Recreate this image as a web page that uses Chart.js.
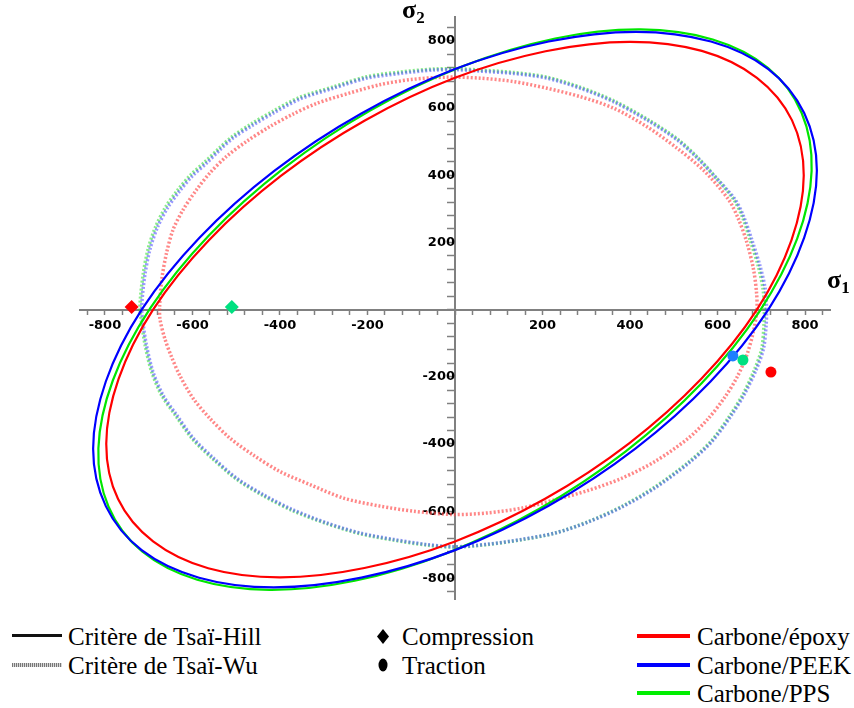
<!DOCTYPE html>
<html>
<head>
<meta charset="utf-8">
<script src="https://cdn.jsdelivr.net/npm/chart.js@4"></script>
<style>
  body { margin: 0; background: #fff; width: 854px; height: 708px; position: relative; overflow: hidden;
         font-family: "Liberation Serif", "Times New Roman", serif; color: #000; }
  #wrap { position: absolute; left: 0; top: 0; width: 854px; height: 610px; }
  .sig { position: absolute; font-weight: bold; font-size: 26px; line-height: 25px; white-space: nowrap; }
  .sig sub { font-size: 17px; vertical-align: -5px; line-height: 0; }
  .leg { position: absolute; font-size: 25px; line-height: 29px; white-space: nowrap; }
  .sw { position: absolute; }
</style>
</head>
<body>
<div id="wrap"><canvas id="stressChart" width="854" height="610"></canvas></div>
<div class="sig" style="left:402px; top:-3px;">σ<sub>2</sub></div>
<div class="sig" style="left:827px; top:267px;">σ<sub>1</sub></div>

<div class="sw" style="left:12px; top:634px; width:50px; height:3px; background:#111;"></div>
<div class="sw" style="left:12px; top:663px; width:50px; height:4px; background:repeating-linear-gradient(90deg,#777 0 1px,#d8d8d8 1px 2px);"></div>
<div class="leg" style="left:68px; top:622px;">Critère de Tsaï-Hill</div>
<div class="leg" style="left:68px; top:651px;">Critère de Tsaï-Wu</div>

<svg class="sw" style="left:377px; top:629px;" width="12" height="15"><polygon points="6,0 12,7.5 6,15 0,7.5" fill="#000"/></svg>
<svg class="sw" style="left:378px; top:658px;" width="10" height="14"><ellipse cx="5" cy="7" rx="4.5" ry="6.5" fill="#000"/></svg>
<div class="leg" style="left:402px; top:622px;">Compression</div>
<div class="leg" style="left:402px; top:651px;">Traction</div>

<div class="sw" style="left:637px; top:634px; width:53px; height:4px; background:#ff0000;"></div>
<div class="sw" style="left:637px; top:663px; width:53px; height:4px; background:#0000ff;"></div>
<div class="sw" style="left:637px; top:691px; width:53px; height:4px; background:#00ee00;"></div>
<div class="leg" style="left:697px; top:622px;">Carbone/époxy</div>
<div class="leg" style="left:697px; top:651px;">Carbone/PEEK</div>
<div class="leg" style="left:697px; top:679px;">Carbone/PPS</div>

<script>
// axes
var xLabels = [-800, -600, -400, -200, 200, 400, 600, 800];
var yLabels = [-800, -600, -400, -200, 200, 400, 600, 800];
var minorStep = 40;

// Tsaï-Hill (solid), closed curves [sigma1, sigma2]
var hillEpoxy = [[690,690],[564,770],[399,797],[207,769],[0,690],[-206,563],[-398,398],[-563,206],[-690,0],[-769,-207],[-797,-399],[-770,-564],[-690,-690],[-564,-770],[-399,-797],[-207,-769],[0,-690],[206,-563],[398,-398],[563,-206],[690,0],[769,207],[797,399],[770,564]];
var hillPeek = [[716,716],[585,798],[414,827],[214,798],[0,716],[-214,584],[-413,413],[-584,214],[-716,0],[-798,-214],[-827,-414],[-798,-585],[-716,-716],[-585,-798],[-414,-827],[-214,-798],[0,-716],[214,-584],[413,-413],[584,-214],[716,0],[798,214],[827,414],[798,585]];
var hillPps = [[715,720],[589,804],[424,834],[229,807],[19,725],[-193,593],[-391,421],[-563,220],[-696,5],[-782,-211],[-815,-413],[-792,-586],[-715,-720],[-589,-804],[-424,-834],[-229,-807],[-19,-725],[193,-593],[391,-421],[563,-220],[696,-5],[782,211],[815,413],[792,586]];

// Tsaï-Wu (dotted), closed curves
var wuEpoxy = [[690,0],[689,52],[682,121],[667,200],[648,269],[625,328],[570,412],[507,481],[438,545],[362,600],[286,634],[210,659],[133,679],[57,689],[-20,692],[-100,685],[-170,670],[-240,645],[-316,614],[-370,582],[-423,545],[-476,501],[-522,456],[-560,407],[-590,358],[-621,298],[-644,239],[-659,170],[-670,91],[-675,10],[-674,-30],[-663,-87],[-648,-140],[-629,-196],[-598,-265],[-560,-324],[-514,-383],[-461,-433],[-400,-482],[-331,-521],[-255,-561],[-171,-585],[-95,-600],[-4,-610],[76,-605],[152,-591],[229,-566],[305,-538],[381,-502],[457,-452],[533,-383],[579,-324],[617,-260],[645,-200],[667,-135],[682,-65]];
var wuPeek = [[712,0],[709,61],[697,130],[678,209],[659,279],[640,328],[598,390],[555,450],[507,506],[438,565],[362,619],[286,659],[210,689],[133,703],[57,710],[4,714],[-50,713],[-126,703],[-202,689],[-278,659],[-354,627],[-415,585],[-461,550],[-507,511],[-537,476],[-567,437],[-600,398],[-630,352],[-657,303],[-680,245],[-697,180],[-709,101],[-716,10],[-714,-30],[-705,-107],[-690,-186],[-667,-255],[-636,-314],[-598,-383],[-552,-442],[-499,-502],[-438,-551],[-370,-596],[-293,-635],[-217,-665],[-141,-684],[-65,-699],[0,-706],[76,-698],[152,-684],[229,-665],[305,-632],[381,-588],[457,-531],[533,-458],[587,-393],[632,-314],[662,-250],[688,-180],[705,-116],[711,-47]];
var wuPps = [[707,0],[704,61],[693,130],[674,209],[656,279],[637,328],[597,392],[555,452],[508,508],[439,567],[362,622],[286,662],[210,692],[133,706],[57,713],[4,717],[-50,716],[-126,707],[-202,693],[-278,663],[-356,631],[-418,589],[-464,554],[-510,514],[-540,479],[-571,440],[-604,401],[-634,355],[-661,306],[-684,247],[-701,182],[-713,102],[-720,10],[-717,-30],[-708,-107],[-693,-186],[-670,-256],[-638,-316],[-600,-385],[-553,-445],[-499,-505],[-438,-554],[-370,-599],[-293,-637],[-217,-667],[-141,-686],[-65,-701],[0,-707],[76,-699],[152,-685],[229,-665],[305,-631],[381,-586],[457,-528],[533,-455],[585,-392],[629,-314],[659,-250],[684,-180],[701,-116],[706,-47]];

// measured failure points: epoxy, PEEK/PPS
var compressionPts = [[-739, 8], [-510, 8]];
var tractionPts = [[722, -186], [635, -138], [658, -150]];

var compressionColors = ['#ff0000', '#00e080'];
var tractionColors = ['#ff0000', '#1f7fff', '#00e080'];

function toXY(pts) {
    return pts.map(function (p) { return { x: p[0], y: p[1] }; });
}

function curve(pts, color, dotted) {
    return {
        data: toXY(pts),
        closed: true,
        showLine: true,
        borderColor: color,
        borderWidth: dotted ? 3.5 : 2.2,
        borderDash: dotted ? [2, 2] : [],
        pointRadius: 0,
        tension: dotted ? 0.3 : 0.34,
        fill: false
    };
}

// close the ellipses like a radar line does
var closeLoops = {
    id: 'closeLoops',
    afterDatasetUpdate: function (chart, args) {
        var ds = chart.data.datasets[args.index];
        var line = args.meta.dataset;
        if (ds.closed && line) {
            line._loop = true;
            line._fullLoop = true;
            line._segments = undefined;
            line._path = undefined;
            line._pointsUpdated = false;
        }
    }
};

function axisOptions(min, max, labels, tickLength, padding, pos) {
    return {
        type: 'linear',
        min: min,
        max: max,
        position: pos,
        grid: { drawOnChartArea: false, drawTicks: true, tickLength: tickLength, tickColor: '#808080', tickWidth: 1.5 },
        border: { color: '#808080', width: 2 },
        afterBuildTicks: function (scale) {
            var ticks = [];
            for (var v = -840; v <= 840; v += minorStep) ticks.push({ value: v });
            scale.ticks = ticks;
        },
        ticks: {
            autoSkip: false,
            maxRotation: 0,
            padding: padding,
            color: '#000',
            font: { family: 'DejaVu Sans', size: 13, weight: 'bold' },
            callback: function (value) { return labels.indexOf(value) >= 0 ? String(value) : ''; }
        }
    };
}

document.addEventListener('DOMContentLoaded', function () {
    var ctx = document.getElementById('stressChart').getContext('2d');
    var stressChart = new Chart(ctx, {
        type: 'scatter',
        data: {
            datasets: [
                {
                    data: toXY(compressionPts),
                    pointStyle: 'rectRot',
                    pointRadius: 7,
                    backgroundColor: compressionColors,
                    borderColor: compressionColors,
                    borderWidth: 0
                },
                {
                    data: toXY(tractionPts),
                    pointStyle: 'circle',
                    pointRadius: 5.5,
                    backgroundColor: tractionColors,
                    borderColor: tractionColors,
                    borderWidth: 0
                },
                curve(hillEpoxy, '#ff0000', false),
                curve(hillPeek, '#0000ff', false),
                curve(hillPps, '#00e600', false),
                curve(wuEpoxy, 'rgba(255,70,70,0.65)', true),
                curve(wuPeek, 'rgba(70,70,255,0.55)', true),
                curve(wuPps, 'rgba(40,220,40,0.55)', true)
            ]
        },
        options: {
            responsive: false,
            animation: false,
            layout: { padding: { left: 80, right: 24, top: 17, bottom: 8 } },
            plugins: {
                legend: { display: false },
                tooltip: { enabled: false }
            },
            scales: {
                x: axisOptions(-857, 857, xLabels, 4, 4, { y: 0 }),
                y: axisOptions(-862, 871, yLabels, 7, 3, { x: 0 })
            }
        },
        plugins: [closeLoops]
    });
});
</script>
</body>
</html>
